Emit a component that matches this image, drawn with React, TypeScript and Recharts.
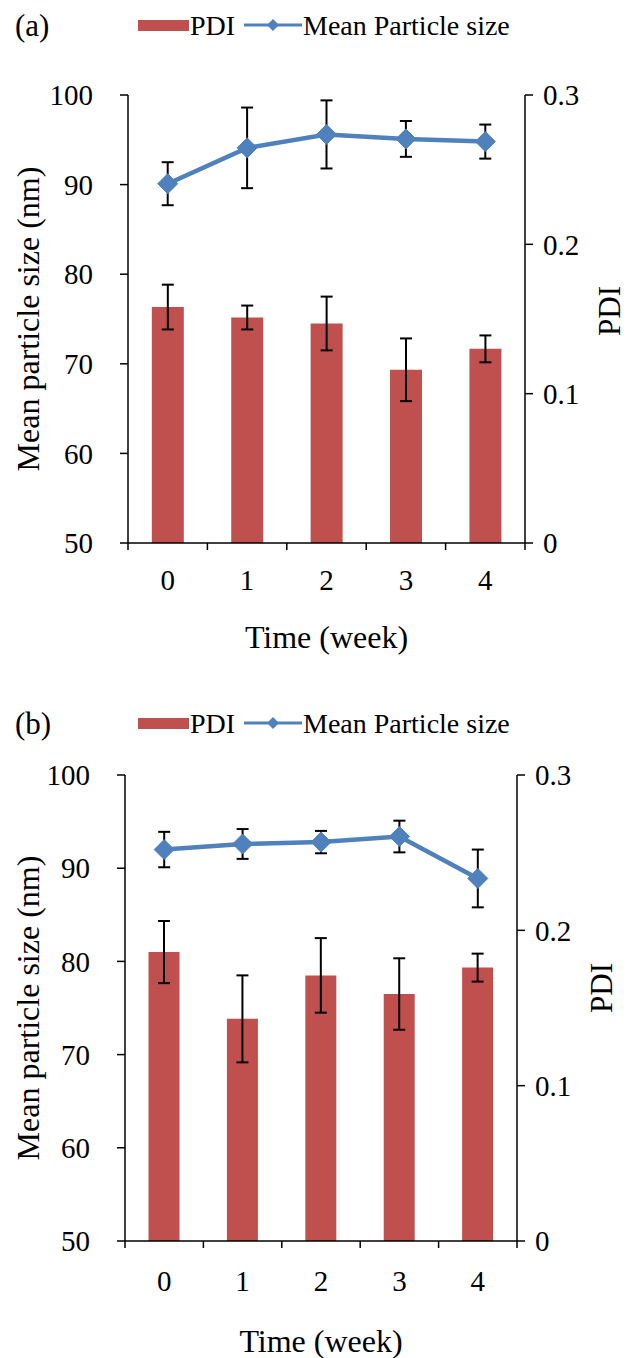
import React from "react";
import { ComposedChart, Bar, Line, XAxis, YAxis, ErrorBar, Legend, Label } from "recharts";

const WEEKS = ["0", "1", "2", "3", "4"];

const PDI_A = [0.158, 0.151, 0.147, 0.116, 0.130];
const PDI_ERR_A = [0.015, 0.008, 0.018, 0.021, 0.009];
const SIZE_A = [90.1, 94.1, 95.6, 95.1, 94.8];
const SIZE_ERR_A = [2.4, 4.5, 3.8, 2.0, 1.9];

const PDI_B = [0.186, 0.143, 0.171, 0.159, 0.176];
const PDI_ERR_B = [0.020, 0.028, 0.024, 0.023, 0.009];
const SIZE_B = [92.0, 92.6, 92.8, 93.4, 88.9];
const SIZE_ERR_B = [1.9, 1.6, 1.2, 1.7, 3.1];

const SIZE_TICKS = [50, 60, 70, 80, 90, 100];
const PDI_TICKS = [0, 0.1, 0.2, 0.3];

const FONT = '"Liberation Serif", "Times New Roman", serif';
const RED = "#C0504D";
const BLUE = "#4F81BD";
const INK = "#000";

function buildRows(pdi: number[], pdiErr: number[], size: number[], sizeErr: number[]) {
  return WEEKS.map((w, i) => ({ week: w, pdi: pdi[i], pdiErr: pdiErr[i], size: size[i], sizeErr: sizeErr[i] }));
}

const ROWS_A = buildRows(PDI_A, PDI_ERR_A, SIZE_A, SIZE_ERR_A);
const ROWS_B = buildRows(PDI_B, PDI_ERR_B, SIZE_B, SIZE_ERR_B);

const Diamond = (props: any) => {
  const { cx, cy, index } = props;
  if (cx == null || cy == null) return <g key={`d${index}`} />;
  const r = 10;
  return (
    <polygon
      key={`d${index}`}
      points={`${cx},${cy - r} ${cx + r},${cy} ${cx},${cy + r} ${cx - r},${cy}`}
      fill={BLUE}
      stroke={BLUE}
      strokeWidth={1}
    />
  );
};

const makeXTick = (tickSize: number, tickMargin: number, fontSize: number) => (props: any) => {
  const { x, y, payload, index, visibleTicksCount, width } = props;
  const count = visibleTicksCount ?? WEEKS.length;
  const half = payload && typeof payload.offset === "number" && payload.offset > 0 ? payload.offset : width / count / 2;
  const axisY = y - tickSize - tickMargin;
  return (
    <g>
      <line x1={x - half} x2={x - half} y1={axisY} y2={axisY + tickSize} stroke={INK} strokeWidth={1.5} />
      {index === count - 1 ? (
        <line x1={x + half} x2={x + half} y1={axisY} y2={axisY + tickSize} stroke={INK} strokeWidth={1.5} />
      ) : null}
      <text x={x} y={y} dy="0.71em" textAnchor="middle" fontSize={fontSize} fontFamily={FONT} fill={INK}>
        {payload.value}
      </text>
    </g>
  );
};

const LegendContent = ({ label }: { label: string }) => (
  <svg width={627} height={40} style={{ display: "block" }}>
    <text x={15} y={20} dominantBaseline="central" fontSize={31} fontFamily={FONT} fill={INK}>
      {label}
    </text>
    <rect x={138} y={15} width={51} height={11} fill={RED} />
    <text x={190} y={20} dominantBaseline="central" fontSize={28} fontFamily={FONT} fill={INK}>
      PDI
    </text>
    <line x1={244} x2={302} y1={20} y2={20} stroke={BLUE} strokeWidth={3} />
    <polygon points={`273,14 279,20 273,26 267,20`} fill={BLUE} />
    <text x={303} y={20} dominantBaseline="central" fontSize={28} fontFamily={FONT} fill={INK}>
      Mean Particle size
    </text>
  </svg>
);

type PanelProps = {
  label: string;
  rows: any[];
  height: number;
  leftW: number;
  rightW: number;
  plotH: number;
  legendTop: number;
  xLabelMargin: number;
  xTitleDy: number;
  pdiTitleShift: number;
};

function Panel(p: PanelProps) {
  const top = 95;
  const xH = p.height - top - p.plotH;
  const axisStroke = { stroke: INK, strokeWidth: 1.5 };
  const tickFont = { fontSize: 29, fontFamily: FONT, fill: INK };
  return (
    <ComposedChart
      width={627}
      height={p.height}
      data={p.rows}
      margin={{ top, right: 0, bottom: 0, left: 0 }}
      barCategoryGap="30%"
    >
      <XAxis
        dataKey="week"
        height={xH}
        interval={0}
        tickLine={false}
        axisLine={axisStroke}
        tickSize={7}
        tickMargin={p.xLabelMargin}
        tick={makeXTick(7, p.xLabelMargin, 29)}
      >
        <Label
          content={(lp: any) => {
            const vb = lp.viewBox || {};
            const cx = vb.x + vb.width / 2;
            const cy = vb.y + p.xTitleDy;
            return (
              <text x={cx} y={cy} textAnchor="middle" dominantBaseline="central" fontSize={32} fontFamily={FONT} fill={INK}>
                Time (week)
              </text>
            );
          }}
        />
      </XAxis>
      <YAxis
        yAxisId="size"
        orientation="left"
        domain={[50, 100]}
        ticks={SIZE_TICKS}
        allowDataOverflow
        width={p.leftW}
        tickSize={8}
        tickMargin={27}
        axisLine={axisStroke}
        tickLine={axisStroke}
        tick={tickFont}
        interval={0}
      >
        <Label
          content={(lp: any) => {
            const vb = lp.viewBox || {};
            const cx = vb.x + 28;
            const cy = vb.y + vb.height / 2;
            return (
              <text
                x={cx}
                y={cy}
                transform={`rotate(-90, ${cx}, ${cy})`}
                textAnchor="middle"
                dominantBaseline="central"
                fontSize={32}
                fontFamily={FONT}
                fill={INK}
              >
                Mean particle size (nm)
              </text>
            );
          }}
        />
      </YAxis>
      <YAxis
        yAxisId="pdi"
        orientation="right"
        domain={[0, 0.3]}
        ticks={PDI_TICKS}
        allowDataOverflow
        width={p.rightW}
        tickSize={8}
        tickMargin={10}
        axisLine={axisStroke}
        tickLine={axisStroke}
        tick={tickFont}
        interval={0}
      >
        <Label
          content={(lp: any) => {
            const vb = lp.viewBox || {};
            const cx = vb.x + 84;
            const cy = vb.y + vb.height / 2 + p.pdiTitleShift;
            return (
              <text
                x={cx}
                y={cy}
                transform={`rotate(-90, ${cx}, ${cy})`}
                textAnchor="middle"
                dominantBaseline="central"
                fontSize={31}
                fontFamily={FONT}
                fill={INK}
              >
                PDI
              </text>
            );
          }}
        />
      </YAxis>
      <Legend
        layout="horizontal"
        verticalAlign="middle"
        align="center"
        wrapperStyle={{ top: p.legendTop, left: 0, width: 627, height: 40 }}
        content={() => <LegendContent label={p.label} />}
      />
      <Bar yAxisId="pdi" dataKey="pdi" name="PDI" fill={RED} isAnimationActive={false}>
        <ErrorBar dataKey="pdiErr" direction="y" width={6} stroke={INK} strokeWidth={2} />
      </Bar>
      <Line
        yAxisId="size"
        dataKey="size"
        name="Mean Particle size"
        stroke={BLUE}
        strokeWidth={4.5}
        dot={Diamond}
        activeDot={false}
        isAnimationActive={false}
      >
        <ErrorBar dataKey="sizeErr" direction="y" width={6} stroke={INK} strokeWidth={2} />
      </Line>
    </ComposedChart>
  );
}

export default function App() {
  return (
    <div style={{ position: "absolute", left: 0, top: 0, width: 627, height: 1358, background: "#fff" }}>
      <div style={{ position: "absolute", left: 0, top: 0 }}>
        <Panel
          label="(a)"
          rows={ROWS_A}
          height={680}
          leftW={128}
          rightW={102}
          plotH={448}
          legendTop={5}
          xLabelMargin={19}
          xTitleDy={94}
          pdiTitleShift={-8}
        />
      </div>
      <div style={{ position: "absolute", left: 0, top: 680 }}>
        <Panel
          label="(b)"
          rows={ROWS_B}
          height={678}
          leftW={125}
          rightW={110}
          plotH={466}
          legendTop={23}
          xLabelMargin={22}
          xTitleDy={100}
          pdiTitleShift={-20}
        />
      </div>
    </div>
  );
}
